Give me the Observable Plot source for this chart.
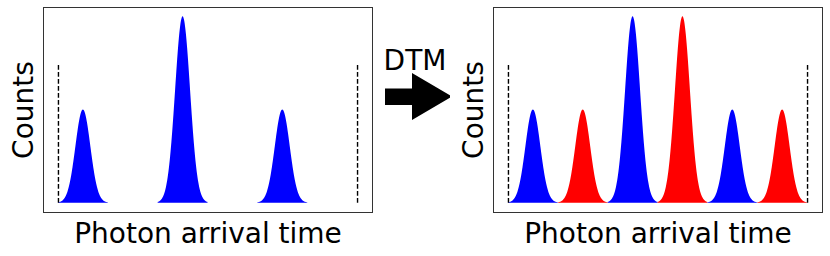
<!DOCTYPE html>
<html>
<head>
<meta charset="utf-8">
<script src="https://cdn.jsdelivr.net/npm/d3@7"></script>
<script src="https://cdn.jsdelivr.net/npm/@observablehq/plot@0.6"></script>
<style>
  html, body { margin: 0; padding: 0; background: white; }
  #wrap { position: relative; width: 830px; height: 256px; font-family: "DejaVu Sans", sans-serif; }
  #wrap > * { position: absolute; top: 0; }
  #left { left: 0; }
  #right { left: 450px; }
  #mid { left: 370px; }
</style>
</head>
<body>
<div id="wrap">
  <div id="left"></div>
  <svg id="mid" width="90" height="256"></svg>
  <div id="right"></div>
</div>
<script>
// ---- data ----
const leftPeakTimes = [0.5, 2.5, 4.5];
const leftPeakCounts = [1, 2, 1];
const leftPeakSeries = ["early", "early", "early"];
const rightPeakTimes = [0.5, 1.5, 2.5, 3.5, 4.5, 5.5];
const rightPeakCounts = [1, 1, 2, 2, 1, 1];
const rightPeakSeries = ["early", "late", "early", "late", "early", "late"];
const peakSigma = 0.15;        // gaussian width of each peak (time units)
const peakHalfSpan = 0.5;      // each peak is drawn over ±0.5
const windowEdges = [0, 6];    // dashed window limits
const windowLevel = 1.5;       // dashed line height
const xLabel = "Photon arrival time";
const yLabel = "Counts";
const middleLabel = "DTM";

const seriesColor = {early: "blue", late: "red"};

function peakRows(t, c) {
  const rows = [];
  const n = 120;
  for (let k = 0; k <= n; k++) {
    const x = t - peakHalfSpan + (2 * peakHalfSpan) * k / n;
    rows.push({x, y: c * Math.exp(-0.5 * ((x - t) / peakSigma) ** 2)});
  }
  return rows;
}

function panel(times, counts, series) {
  const areas = times.map((t, i) =>
    Plot.areaY(peakRows(t, counts[i]), {x: "x", y: "y", fill: seriesColor[series[i]], curve: "linear"})
  );
  return Plot.plot({
    width: 380,
    height: 256,
    marginLeft: 43,
    marginRight: 8,
    marginTop: 7,
    marginBottom: 44,
    x: {domain: [-0.3, 6.3], axis: null},
    y: {domain: [-0.1, 2.1], axis: null},
    style: {fontFamily: "DejaVu Sans", background: "white", overflow: "visible"},
    marks: [
      ...areas,
      Plot.ruleX(windowEdges, {y1: 0, y2: windowLevel, stroke: "black", strokeWidth: 1.4, strokeDasharray: "4.6,2.4"}),
      Plot.frame({stroke: "#333", strokeWidth: 1}),
      Plot.text([xLabel], {text: d => d, frameAnchor: "bottom", textAnchor: "middle", dy: 30, lineAnchor: "bottom", fontSize: 28, fill: "black"}),
      Plot.text([yLabel], {text: d => d, frameAnchor: "left", textAnchor: "middle", rotate: -90, dx: -11, lineAnchor: "bottom", fontSize: 28, fill: "black"})
    ]
  });
}

document.getElementById("left").appendChild(panel(leftPeakTimes, leftPeakCounts, leftPeakSeries));
document.getElementById("right").appendChild(panel(rightPeakTimes, rightPeakCounts, rightPeakSeries));

// middle annotation: label and block arrow (local coords, offset 370px)
const mid = d3.select("#mid");
mid.append("text")
  .attr("x", 45).attr("y", 70)
  .attr("text-anchor", "middle")
  .attr("font-family", "DejaVu Sans")
  .attr("font-size", 28)
  .attr("fill", "black")
  .text(middleLabel);
mid.append("polygon")
  .attr("points", "15,88.5 42,88.5 42,73 82,96.5 42,120 42,105 15,105")
  .attr("fill", "black");
</script>
</body>
</html>
